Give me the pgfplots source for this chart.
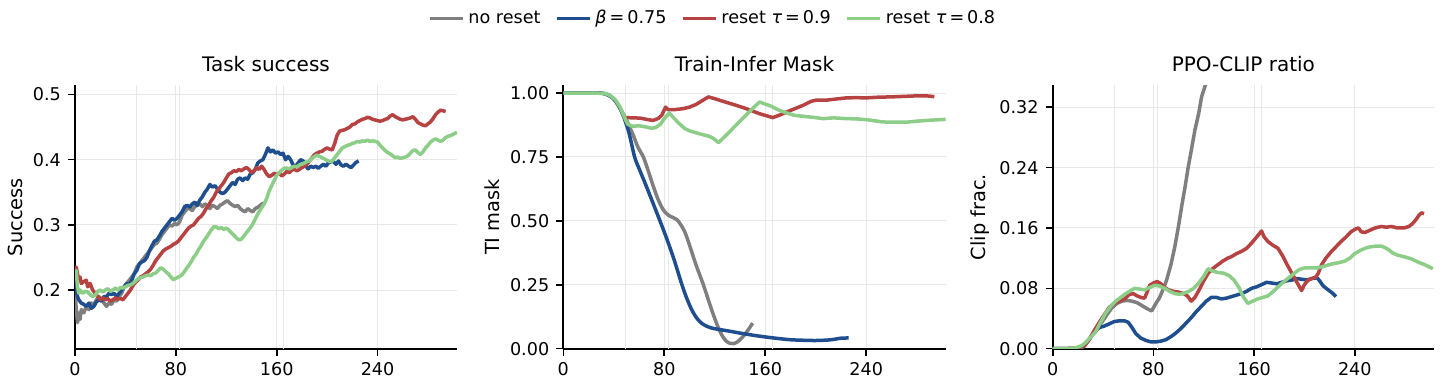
\documentclass[border=0pt]{standalone}
\usepackage{fontspec}
\setmainfont{DejaVu Sans}
\usepackage{pgfplots}
\pgfplotsset{compat=1.18}
\definecolor{cgray}{RGB}{127,127,127}
\definecolor{cblue}{RGB}{30,78,142}
\definecolor{cred}{RGB}{182,66,66}
\definecolor{cgreen}{RGB}{140,205,135}
\pgfplotsset{
 myaxis/.style={
  scale only axis, height=131.65pt,
  axis x line*=bottom, axis y line*=left,
  axis line style={line width=0.9pt, black},
  tick align=outside, major tick length=3.5pt,
  tick style={line width=0.8pt, black},
  xmin=0, xmax=303, xtick={0,80,160,240}, xticklabels={0,80,160,240},
  grid=major, major grid style={line width=0.5pt, draw=black!9},
  extra x ticks={49,83,165.5}, extra x tick labels={},
  extra x tick style={grid=major, major tick length=0pt},
  ticklabel style={font=\fontsize{8.8}{10}\selectfont},
  label style={font=\fontsize{9.7}{11}\selectfont},
  title style={font=\fontsize{10}{12}\selectfont, at={(0.5,1.0084)}, anchor=base},
  every axis plot/.append style={line width=1.75pt, line join=round},
  /pgf/number format/assume math mode=true,
 }
}
\begin{document}
\begin{tikzpicture}
\path[use as bounding box] (0,0) rectangle (720pt,191.5pt);
% ---------------- Panel 1
\begin{axis}[myaxis, at={(37.5pt,17.15pt)}, anchor=south west, width=191pt,
  title={Task success}, ylabel={Success},
  ylabel style={at={(axis description cs:-0.157,0.5)}, anchor=center},
  ymin=0.11, ymax=0.514, ytick={0.2,0.3,0.4,0.5}, yticklabels={0.2,0.3,0.4,0.5}]
\addplot[cgray] coordinates {(0,0.20)(1,0.17)(2,0.15)(3,0.165)(4,0.155)(5,0.17)(7,0.165)(9,0.175)(11,0.17)(13,0.18)(15,0.178)(17,0.185)(19,0.19)(21,0.185)(23,0.18)(25,0.175)(27,0.18)(29,0.178)(31,0.185)(33,0.183)(35,0.19)(37,0.195)(39,0.205)(41,0.21)(43,0.215)(45,0.22)(47,0.225)(49,0.235)(51,0.24)(53,0.245)(55,0.25)(57,0.255)(59,0.26)(61,0.265)(63,0.27)(65,0.272)(67,0.278)(69,0.285)(71,0.29)(73,0.295)(75,0.30)(77,0.298)(79,0.302)(81,0.30)(83,0.305)(85,0.315)(87,0.32)(89,0.325)(91,0.325)(93,0.322)(95,0.328)(97,0.33)(99,0.332)(101,0.328)(103,0.332)(105,0.33)(107,0.325)(109,0.33)(111,0.328)(113,0.325)(115,0.33)(117,0.332)(119,0.335)(121,0.337)(123,0.333)(125,0.33)(127,0.328)(129,0.33)(131,0.325)(133,0.322)(135,0.32)(137,0.325)(139,0.322)(141,0.32)(143,0.325)(145,0.327)(147,0.33)(149,0.333)(150,0.33)};
\addplot[cblue] coordinates {(0,0.22)(1,0.20)(2,0.19)(3,0.185)(5,0.18)(7,0.178)(9,0.175)(11,0.18)(13,0.172)(15,0.175)(17,0.182)(19,0.185)(21,0.183)(23,0.19)(25,0.19)(27,0.195)(29,0.193)(31,0.195)(33,0.19)(35,0.195)(37,0.20)(39,0.205)(41,0.21)(43,0.208)(45,0.215)(47,0.225)(49,0.23)(51,0.24)(53,0.243)(55,0.245)(57,0.25)(59,0.26)(61,0.268)(63,0.275)(65,0.277)(67,0.283)(69,0.29)(71,0.295)(73,0.30)(75,0.305)(77,0.31)(79,0.307)(81,0.31)(83,0.315)(85,0.32)(87,0.328)(89,0.33)(91,0.327)(93,0.332)(95,0.335)(97,0.33)(99,0.338)(101,0.343)(103,0.35)(105,0.355)(107,0.362)(109,0.358)(111,0.36)(113,0.355)(115,0.35)(117,0.348)(119,0.35)(121,0.355)(123,0.36)(125,0.365)(127,0.362)(129,0.37)(131,0.372)(133,0.368)(135,0.372)(137,0.37)(139,0.378)(141,0.38)(143,0.385)(145,0.395)(147,0.398)(149,0.40)(151,0.408)(153,0.418)(155,0.412)(157,0.415)(159,0.41)(161,0.412)(163,0.408)(165,0.41)(167,0.40)(169,0.405)(171,0.40)(173,0.392)(175,0.39)(177,0.395)(179,0.40)(181,0.398)(183,0.39)(185,0.386)(187,0.39)(189,0.388)(191,0.39)(193,0.387)(195,0.39)(197,0.393)(199,0.39)(201,0.395)(203,0.397)(205,0.397)(207,0.393)(209,0.398)(211,0.392)(213,0.39)(215,0.393)(217,0.39)(219,0.388)(221,0.392)(223,0.396)(225,0.398)};
\addplot[cred] coordinates {(0,0.23)(1,0.235)(2,0.225)(3,0.215)(4,0.22)(5,0.21)(7,0.213)(9,0.215)(10,0.205)(12,0.21)(14,0.20)(16,0.195)(18,0.19)(20,0.185)(22,0.188)(24,0.185)(26,0.187)(28,0.183)(30,0.185)(32,0.188)(34,0.186)(36,0.187)(38,0.185)(40,0.19)(42,0.195)(44,0.20)(46,0.207)(48,0.212)(50,0.215)(52,0.22)(54,0.222)(56,0.225)(58,0.228)(60,0.232)(62,0.238)(64,0.245)(66,0.25)(68,0.255)(70,0.26)(72,0.263)(74,0.265)(76,0.267)(78,0.27)(80,0.272)(82,0.275)(84,0.28)(86,0.285)(88,0.29)(90,0.295)(92,0.298)(94,0.30)(96,0.305)(98,0.31)(100,0.313)(102,0.318)(104,0.325)(106,0.33)(108,0.337)(110,0.342)(112,0.35)(114,0.355)(116,0.36)(118,0.365)(120,0.372)(122,0.378)(124,0.38)(126,0.383)(128,0.382)(130,0.385)(132,0.383)(134,0.386)(136,0.388)(138,0.385)(140,0.38)(142,0.383)(144,0.388)(146,0.385)(148,0.39)(150,0.385)(152,0.378)(154,0.374)(156,0.376)(158,0.379)(160,0.377)(162,0.38)(164,0.375)(166,0.378)(168,0.382)(170,0.38)(172,0.384)(174,0.385)(176,0.383)(178,0.385)(180,0.388)(182,0.39)(184,0.393)(186,0.398)(188,0.403)(190,0.408)(192,0.41)(194,0.412)(196,0.413)(198,0.416)(200,0.418)(202,0.416)(204,0.415)(206,0.425)(208,0.438)(210,0.444)(212,0.445)(214,0.446)(216,0.448)(218,0.45)(220,0.454)(222,0.455)(224,0.458)(226,0.46)(228,0.462)(230,0.463)(232,0.465)(234,0.464)(236,0.462)(238,0.461)(240,0.46)(242,0.459)(244,0.46)(246,0.462)(248,0.463)(250,0.467)(252,0.469)(254,0.466)(256,0.464)(258,0.462)(260,0.461)(262,0.462)(264,0.463)(266,0.464)(268,0.466)(270,0.462)(272,0.457)(274,0.455)(276,0.453)(278,0.452)(280,0.455)(282,0.458)(284,0.463)(286,0.469)(288,0.473)(290,0.476)(292,0.475)(294,0.474)};
\addplot[cgreen] coordinates {(0,0.215)(1,0.23)(2,0.205)(3,0.195)(4,0.20)(6,0.195)(8,0.198)(10,0.197)(12,0.193)(14,0.19)(16,0.192)(18,0.198)(20,0.20)(22,0.197)(24,0.20)(26,0.202)(28,0.198)(30,0.20)(32,0.203)(34,0.20)(36,0.204)(38,0.203)(40,0.205)(42,0.207)(44,0.208)(46,0.21)(48,0.214)(50,0.217)(52,0.219)(54,0.22)(56,0.222)(58,0.223)(60,0.222)(62,0.225)(64,0.226)(66,0.23)(68,0.234)(70,0.232)(72,0.228)(74,0.225)(76,0.22)(78,0.216)(80,0.218)(82,0.22)(84,0.222)(86,0.226)(88,0.232)(90,0.237)(92,0.243)(94,0.25)(96,0.255)(98,0.262)(100,0.268)(102,0.275)(104,0.28)(106,0.286)(108,0.292)(110,0.297)(112,0.297)(114,0.294)(116,0.296)(118,0.293)(120,0.295)(122,0.292)(124,0.288)(126,0.284)(128,0.28)(130,0.277)(132,0.278)(134,0.283)(136,0.288)(138,0.293)(140,0.298)(142,0.305)(144,0.313)(146,0.32)(148,0.326)(150,0.332)(152,0.34)(154,0.352)(156,0.36)(158,0.368)(160,0.376)(162,0.38)(164,0.384)(166,0.387)(168,0.387)(170,0.386)(172,0.388)(174,0.39)(176,0.389)(178,0.392)(180,0.393)(182,0.395)(184,0.397)(186,0.398)(188,0.402)(190,0.405)(192,0.407)(194,0.405)(196,0.403)(198,0.401)(200,0.399)(202,0.397)(204,0.398)(206,0.403)(208,0.408)(210,0.413)(212,0.418)(214,0.42)(216,0.422)(218,0.423)(220,0.425)(222,0.426)(224,0.428)(226,0.427)(228,0.429)(230,0.428)(232,0.43)(234,0.428)(236,0.429)(238,0.428)(240,0.427)(242,0.422)(244,0.418)(246,0.414)(248,0.411)(250,0.409)(252,0.406)(254,0.403)(256,0.404)(258,0.402)(260,0.403)(262,0.404)(264,0.406)(266,0.41)(268,0.414)(270,0.415)(272,0.411)(274,0.408)(276,0.412)(278,0.418)(280,0.422)(282,0.427)(284,0.43)(286,0.432)(288,0.43)(290,0.428)(292,0.43)(294,0.434)(296,0.436)(298,0.437)(300,0.439)(302,0.441)(303,0.442)};
\end{axis}
% ---------------- Panel 2
\begin{axis}[myaxis, at={(281.65pt,17.15pt)}, anchor=south west, width=191.2pt,
  title={Train-Infer Mask}, ylabel={TI mask},
  ylabel style={at={(axis description cs:-0.187,0.5)}, anchor=center},
  ymin=0, ymax=1.03, ytick={0,0.25,0.5,0.75,1}, yticklabels={0.00,0.25,0.50,0.75,1.00},
  legend style={at={(axis description cs:0.393,1.2545)}, anchor=center, draw=none, fill=none,
    legend columns=4, font=\fontsize{8.8}{10}\selectfont,
    /tikz/every even column/.append style={column sep=5.2pt}},
  legend image code/.code={\draw[#1, line width=1.75pt] (0pt,0pt) -- (16.5pt,0pt);}]
\addplot[cgray, smooth] coordinates {(0,1)(25,1)(33,0.998)(37,0.99)(41,0.97)(45,0.94)(50,0.895)(55,0.84)(59,0.79)(63.4,0.75)(67,0.7)(71,0.64)(75,0.585)(79,0.545)(83,0.523)(87,0.513)(90,0.505)(92.4,0.49)(96,0.46)(99,0.42)(102,0.375)(105,0.33)(108,0.29)(111,0.25)(114,0.205)(117,0.16)(120,0.118)(123,0.08)(126,0.05)(129,0.03)(132,0.021)(135,0.02)(138,0.027)(141,0.04)(144,0.057)(147,0.077)(150,0.1)};
\addlegendentry{no reset}
\addplot[cblue, smooth] coordinates {(0,1)(25,1)(32,0.998)(36,0.99)(40,0.977)(44,0.95)(48,0.905)(52,0.845)(56.5,0.75)(60,0.705)(65,0.645)(70,0.583)(76.6,0.5)(82,0.43)(88,0.345)(94,0.25)(98,0.195)(102,0.15)(106,0.118)(110,0.098)(115,0.085)(120,0.078)(130,0.07)(140,0.061)(150,0.053)(160,0.046)(170,0.04)(180,0.035)(190,0.033)(200,0.032)(210,0.034)(215,0.037)(220,0.041)(226,0.042)};
\addlegendentry{\textit{β}\,=\,0.75}
\addplot[cred] coordinates {(50,0.904)(55,0.903)(61,0.902)(66,0.897)(71,0.893)(75,0.9)(78,0.913)(81,0.945)(83,0.935)(88,0.935)(95,0.939)(100,0.945)(105,0.955)(110,0.97)(115,0.985)(120,0.978)(125,0.97)(135,0.955)(145,0.939)(155,0.92)(166,0.904)(172,0.915)(177,0.926)(184,0.94)(190,0.952)(196,0.967)(200,0.972)(208,0.972)(215,0.976)(224,0.981)(232,0.982)(240,0.981)(250,0.984)(260,0.985)(270,0.987)(280,0.989)(288,0.989)(294,0.986)};
\addlegendentry{reset \textit{τ}\,=\,0.9}
\addplot[cgreen] coordinates {(0,1)(25,1)(33,0.998)(37,0.99)(41,0.975)(45,0.945)(48,0.91)(51,0.878)(55,0.87)(60,0.872)(65,0.868)(70,0.862)(73,0.865)(77,0.878)(80,0.9)(84,0.922)(88,0.9)(92,0.88)(96,0.862)(100,0.852)(105,0.845)(110,0.838)(116,0.83)(119,0.822)(123,0.806)(130,0.84)(137,0.875)(145,0.915)(150,0.94)(155.5,0.965)(160,0.957)(165,0.948)(170,0.935)(177,0.922)(183,0.913)(190,0.909)(198,0.905)(206,0.9)(214,0.903)(224,0.9)(232,0.899)(240,0.896)(246,0.892)(253,0.887)(262,0.886)(272,0.886)(280,0.89)(288,0.893)(295,0.895)(303,0.897)};
\addlegendentry{reset \textit{τ}\,=\,0.8}
\end{axis}
% ---------------- Panel 3
\begin{axis}[myaxis, at={(526.35pt,17.15pt)}, anchor=south west, width=190.7pt,
  title={PPO-CLIP ratio}, ylabel={Clip frac.},
  ylabel style={at={(axis description cs:-0.191,0.5)}, anchor=center},
  ymin=0, ymax=0.349, ytick={0,0.08,0.16,0.24,0.32}, yticklabels={0.00,0.08,0.16,0.24,0.32}]
\addplot[cgray] coordinates {(0,0)(10,0)(20,0)(25,0.003)(28,0.01)(31,0.018)(35,0.026)(39,0.035)(43,0.045)(47,0.054)(51,0.06)(55,0.063)(59,0.064)(63,0.063)(67,0.061)(71,0.057)(75,0.053)(78.6,0.05)(82,0.06)(85,0.068)(88,0.08)(90.5,0.091)(94,0.112)(97,0.135)(100,0.163)(102.4,0.188)(105,0.213)(107.7,0.241)(110,0.262)(113,0.29)(116,0.312)(118.3,0.334)(121,0.348)(123,0.36)(126,0.38)};
\addplot[cblue] coordinates {(0,0)(10,0)(20,0.001)(25,0.004)(29,0.012)(33,0.022)(37,0.028)(41,0.03)(45,0.033)(49,0.036)(53,0.037)(57,0.037)(60,0.035)(63,0.028)(66,0.02)(70,0.014)(74,0.011)(78,0.009)(82,0.009)(86,0.01)(90,0.012)(94,0.016)(98,0.021)(102,0.027)(106,0.034)(110,0.041)(114,0.049)(118,0.056)(122,0.063)(126,0.068)(130,0.068)(134,0.066)(138,0.067)(142,0.069)(146,0.071)(150,0.073)(154,0.076)(158,0.08)(162,0.082)(166,0.085)(170,0.088)(174,0.087)(178,0.086)(182,0.088)(186,0.09)(190,0.091)(194,0.093)(198,0.092)(202,0.091)(206,0.093)(210,0.094)(212,0.09)(215,0.083)(218,0.079)(222,0.074)(225,0.069)};
\addplot[cred] coordinates {(0,0)(10,0)(20,0.001)(25,0.004)(29,0.012)(33,0.024)(37,0.035)(41,0.045)(45,0.055)(49,0.06)(53,0.063)(57,0.066)(61,0.072)(64,0.073)(67,0.07)(70,0.068)(73,0.067)(75,0.075)(77,0.084)(80,0.087)(83,0.089)(86,0.086)(89,0.081)(92,0.078)(96,0.076)(100,0.075)(104,0.073)(107,0.07)(110,0.063)(113,0.068)(117,0.08)(120,0.09)(123.5,0.1)(127,0.106)(131,0.111)(135,0.116)(139,0.12)(142,0.122)(146,0.126)(150,0.129)(154,0.133)(158,0.14)(162,0.148)(165.9,0.156)(168,0.148)(171,0.142)(175,0.137)(179,0.133)(183,0.122)(186,0.112)(190,0.1)(194,0.088)(197.7,0.077)(200,0.085)(203,0.091)(206,0.093)(209,0.095)(211,0.1)(213.5,0.111)(217,0.12)(221.5,0.129)(225,0.135)(229,0.142)(233,0.148)(237,0.155)(241,0.159)(243,0.16)(245,0.155)(248,0.154)(252,0.157)(256,0.16)(261,0.162)(265,0.161)(269,0.162)(274,0.16)(279,0.16)(283,0.162)(286,0.166)(289,0.172)(291,0.177)(293,0.18)(295,0.179)};
\addplot[cgreen] coordinates {(0,0)(10,0)(18,0.001)(23,0.004)(26,0.008)(30,0.015)(34,0.022)(38,0.035)(42,0.047)(46,0.056)(50,0.063)(54,0.068)(58,0.073)(62,0.077)(65,0.08)(69,0.079)(73,0.078)(77,0.081)(81,0.084)(85,0.083)(89,0.08)(93,0.076)(97,0.073)(101,0.072)(105,0.074)(108,0.076)(112,0.08)(116,0.087)(120,0.096)(123.5,0.106)(127,0.103)(131,0.101)(136,0.1)(140,0.097)(144,0.091)(148,0.081)(151,0.07)(155,0.06)(159,0.063)(163,0.066)(167,0.068)(171,0.07)(176,0.077)(181,0.085)(186,0.092)(192,0.1)(196,0.105)(200,0.107)(205,0.107)(210,0.107)(215,0.109)(221,0.112)(227,0.114)(232,0.116)(236,0.12)(240,0.126)(244,0.13)(248,0.133)(252,0.135)(257,0.136)(261,0.136)(264,0.134)(267,0.131)(270,0.127)(274,0.124)(279,0.122)(285,0.119)(290,0.115)(296,0.111)(302,0.106)};
\end{axis}
\end{tikzpicture}
\end{document}
